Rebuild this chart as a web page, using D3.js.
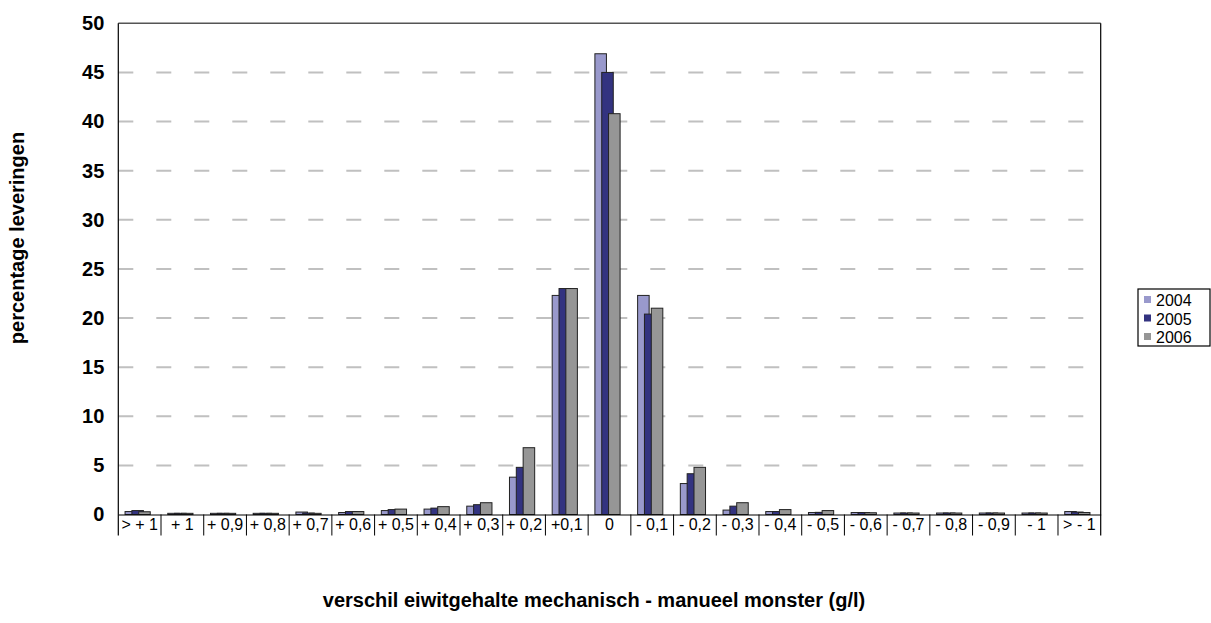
<!DOCTYPE html>
<html>
<head>
<meta charset="utf-8">
<script src="https://cdn.jsdelivr.net/npm/d3@7"></script>
<style>
  body { margin: 0; background: #fff; }
  svg { font-family: "Liberation Sans", Arial, sans-serif; }
</style>
</head>
<body>
<div id="chart"></div>
<script>
const WIDTH = 1211;
const HEIGHT = 623;

const categories = ['> + 1', '+ 1', '+ 0,9', '+ 0,8', '+ 0,7', '+ 0,6', '+ 0,5', '+ 0,4', '+ 0,3', '+ 0,2', '+0,1', '0',
  '- 0,1', '- 0,2', '- 0,3', '- 0,4', '- 0,5', '- 0,6', '- 0,7', '- 0,8', '- 0,9', '- 1', '> - 1'];
const years = ['2004', '2005', '2006'];
const values2004 = [0.3, 0.12, 0.12, 0.12, 0.25, 0.2, 0.4, 0.55, 0.85, 3.8, 22.3, 46.9,
  22.3, 3.15, 0.45, 0.3, 0.2, 0.2, 0.15, 0.15, 0.15, 0.15, 0.3];
const values2005 = [0.4, 0.12, 0.12, 0.12, 0.15, 0.3, 0.5, 0.65, 1.0, 4.8, 23.0, 45.0,
  20.4, 4.15, 0.85, 0.3, 0.22, 0.2, 0.15, 0.15, 0.15, 0.15, 0.25];
const values2006 = [0.28, 0.12, 0.12, 0.12, 0.12, 0.3, 0.55, 0.8, 1.2, 6.8, 23.0, 40.8,
  21.0, 4.8, 1.2, 0.5, 0.4, 0.18, 0.15, 0.15, 0.15, 0.15, 0.2];
const yTicks = [0, 5, 10, 15, 20, 25, 30, 35, 40, 45, 50];
const colors = ['#9999cc', '#333380', '#969696'];

const series = [values2004, values2005, values2006];

const LEFT = 118.3;
const RIGHT = 1100.7;
const TOP = 23.3;
const BOTTOM = 514.5;

const svg = d3.select('#chart').append('svg')
  .attr('width', WIDTH)
  .attr('height', HEIGHT);

const x = d3.scaleBand()
  .domain(categories)
  .range([LEFT, RIGHT])
  .padding(0);

const y = d3.scaleLinear()
  .domain([0, 50])
  .range([BOTTOM, TOP]);

// gridlines
svg.append('g')
  .selectAll('line')
  .data(yTicks.filter(d => d > 0 && d < 50))
  .join('line')
  .attr('x1', LEFT)
  .attr('x2', RIGHT)
  .attr('y1', d => y(d))
  .attr('y2', d => y(d))
  .attr('stroke', '#c0c0c0')
  .attr('stroke-width', 2)
  .attr('stroke-dasharray', '15,23');

// bars
const bw = x.bandwidth();
const barW = bw * 0.27;
const step = bw * 0.16;
const groupW = barW + 2 * step;

series.forEach((vals, si) => {
  svg.append('g')
    .selectAll('rect')
    .data(vals)
    .join('rect')
    .attr('x', (d, i) => x(categories[i]) + bw / 2 - groupW / 2 - 2 + si * step)
    .attr('y', d => y(d))
    .attr('width', barW)
    .attr('height', d => BOTTOM - y(d))
    .attr('fill', colors[si])
    .attr('stroke', '#222')
    .attr('stroke-width', 1);
});

// plot frame
svg.append('line')
  .attr('x1', LEFT).attr('x2', RIGHT)
  .attr('y1', TOP).attr('y2', TOP)
  .attr('stroke', '#555').attr('stroke-width', 1.5);
svg.append('line')
  .attr('x1', RIGHT).attr('x2', RIGHT)
  .attr('y1', TOP).attr('y2', BOTTOM + 21)
  .attr('stroke', '#000').attr('stroke-width', 1.2);

// y axis
const yAxis = svg.append('g')
  .attr('transform', `translate(${LEFT},0)`)
  .call(d3.axisLeft(y).tickValues(yTicks).tickSize(0).tickPadding(14));
yAxis.select('.domain').remove();
yAxis.selectAll('text')
  .attr('font-size', 20)
  .attr('font-weight', 'bold')
  .attr('fill', '#000')
  .attr('font-family', '"Liberation Sans", Arial, sans-serif');
svg.append('line')
  .attr('x1', LEFT).attr('x2', LEFT)
  .attr('y1', TOP).attr('y2', BOTTOM + 21)
  .attr('stroke', '#000').attr('stroke-width', 1.2);

// x axis
const xAxis = svg.append('g')
  .attr('transform', `translate(0,${BOTTOM})`)
  .call(d3.axisBottom(x).tickSize(0).tickPadding(4));
xAxis.select('.domain')
  .attr('stroke', '#000')
  .attr('stroke-width', 1.2);
xAxis.selectAll('text')
  .attr('font-size', 16)
  .attr('fill', '#000')
  .attr('font-family', '"Liberation Sans", Arial, sans-serif');

svg.append('g')
  .selectAll('line')
  .data(categories.slice(1))
  .join('line')
  .attr('x1', d => x(d))
  .attr('x2', d => x(d))
  .attr('y1', BOTTOM)
  .attr('y2', BOTTOM + 21)
  .attr('stroke', '#000')
  .attr('stroke-width', 1);

// axis titles
svg.append('text')
  .attr('x', 594)
  .attr('y', 607)
  .attr('text-anchor', 'middle')
  .attr('font-size', 20)
  .attr('font-weight', 'bold')
  .text('verschil eiwitgehalte mechanisch - manueel monster (g/l)');

svg.append('text')
  .attr('transform', 'translate(24,238) rotate(-90)')
  .attr('text-anchor', 'middle')
  .attr('font-size', 20)
  .attr('font-weight', 'bold')
  .text('percentage leveringen');

// legend
const legend = svg.append('g')
  .attr('transform', 'translate(1138,289)');
legend.append('rect')
  .attr('width', 72)
  .attr('height', 57)
  .attr('fill', '#fff')
  .attr('stroke', '#000')
  .attr('stroke-width', 1.2);
years.forEach((yr, i) => {
  legend.append('rect')
    .attr('x', 6)
    .attr('y', 7 + i * 18.5)
    .attr('width', 7)
    .attr('height', 7)
    .attr('fill', colors[i]);
  legend.append('text')
    .attr('x', 18)
    .attr('y', 17 + i * 18.5)
    .attr('font-size', 16)
    .text(yr);
});
</script>
</body>
</html>
